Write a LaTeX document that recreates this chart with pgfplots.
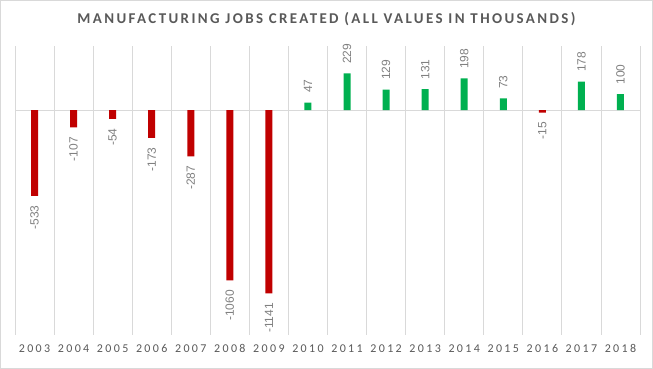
\documentclass[border=0pt]{standalone}
\usepackage{pgfplots}
\pgfplotsset{compat=1.18}
\usepackage{fontspec}
\setmainfont{Carlito}
\newfontfamily\titlefont[LetterSpace=16]{Carlito}
\newfontfamily\tickfont[LetterSpace=20]{Carlito}
\newfontfamily\labfont{Liberation Sans}
\definecolor{barred}{HTML}{C00000}
\definecolor{bargreen}{HTML}{00B050}
\definecolor{gridc}{HTML}{D9D9D9}
\definecolor{titlec}{HTML}{595959}
\definecolor{labc}{HTML}{808080}
\begin{document}
\begin{tikzpicture}
\draw[gridc, line width=0.8bp] (0.4bp,0.4bp) rectangle (652.6bp,368.6bp);
\node[text=titlec, font=\titlefont\bfseries\fontsize{15}{17}\selectfont] at (326.5bp,349.5bp) {MANUFACTURING JOBS CREATED (ALL VALUES IN THOUSANDS)};
\begin{axis}[
  at={(15bp,34bp)}, anchor=south west,
  scale only axis, width=625bp, height=289bp,
  xmin=-0.5, xmax=15.5, ymin=-1400, ymax=400,
  axis line style={draw=none},
  ybar, bar width=7bp,
  xtick={0,...,15},
  xticklabels={2003,2004,2005,2006,2007,2008,2009,2010,2011,2012,2013,2014,2015,2016,2017,2018},
  xticklabel style={font=\tickfont\fontsize{12}{14}\selectfont, text=titlec, yshift=-6bp},
  major tick length=0pt, minor tick length=0pt,
  minor xtick={-0.5,0.5,...,15.5},
  minor x grid style={gridc, line width=0.8bp},
  xminorgrids=true,
  ytick=\empty,
  extra y ticks={0}, extra y tick labels={},
  extra y tick style={grid=major, major grid style={gridc, line width=0.8bp}},
  nodes near coords={\labfont\pgfmathprintnumber[assume math mode=true,1000 sep={}]{\pgfplotspointmeta}},
  every node near coord/.append style={font=\labfont\fontsize{12}{14}\selectfont, text=labc, rotate=90, inner xsep=9.5bp},
]
\addplot+[bar shift=0pt, fill=barred, draw=none, nodes near coords style={anchor=east}] coordinates {(0,-533) (1,-107) (2,-54) (3,-173) (4,-287) (5,-1060) (6,-1141) (13,-15)};
\addplot+[bar shift=0pt, fill=bargreen, draw=none, nodes near coords style={anchor=west}] coordinates {(7,47) (8,229) (9,129) (10,131) (11,198) (12,73) (14,178) (15,100)};
\end{axis}
\end{tikzpicture}
\end{document}
